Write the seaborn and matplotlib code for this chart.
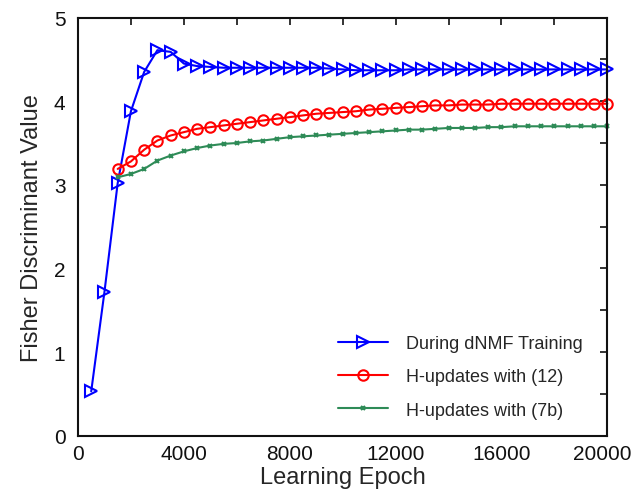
import numpy as np
import pandas as pd
import seaborn as sns
import matplotlib
matplotlib.use("Agg")
import matplotlib.pyplot as plt
from matplotlib.ticker import MultipleLocator
from matplotlib.transforms import ScaledTranslation

# ---- data ----
blue_epochs = list(range(500, 20001, 500))
blue_values = [0.53, 1.72, 3.02, 3.88, 4.35, 4.61, 4.59, 4.45, 4.42, 4.41,
               4.40, 4.40, 4.40, 4.40, 4.40, 4.40, 4.40, 4.40, 4.39, 4.38,
               4.37, 4.37, 4.37, 4.37, 4.38, 4.38, 4.38, 4.38, 4.38, 4.38,
               4.38, 4.38, 4.38, 4.38, 4.38, 4.38, 4.38, 4.38, 4.38, 4.38]

red_epochs = list(range(1500, 20001, 500))
red_values = [3.19, 3.28, 3.42, 3.53, 3.59, 3.63, 3.67, 3.69, 3.71, 3.73,
              3.75, 3.77, 3.79, 3.81, 3.83, 3.85, 3.86, 3.87, 3.88, 3.90,
              3.91, 3.92, 3.93, 3.94, 3.95, 3.95, 3.96, 3.96, 3.96, 3.97,
              3.97, 3.97, 3.97, 3.97, 3.97, 3.97, 3.97, 3.97]

green_epochs = list(range(1500, 20001, 500))
green_values = [3.09, 3.13, 3.19, 3.29, 3.35, 3.40, 3.44, 3.47, 3.49, 3.50,
                3.52, 3.53, 3.55, 3.57, 3.58, 3.59, 3.60, 3.61, 3.62, 3.63,
                3.64, 3.65, 3.66, 3.66, 3.67, 3.68, 3.68, 3.68, 3.69, 3.69,
                3.70, 3.70, 3.70, 3.70, 3.70, 3.70, 3.70, 3.70]

series_names = ["During dNMF Training", "H-updates with (12)", "H-updates with (7b)"]
x_ticks = [0, 4000, 8000, 12000, 16000, 20000]
y_ticks = [0, 1, 2, 3, 4, 5]

df = pd.concat([
    pd.DataFrame({"epoch": blue_epochs, "value": blue_values, "series": series_names[0]}),
    pd.DataFrame({"epoch": red_epochs, "value": red_values, "series": series_names[1]}),
    pd.DataFrame({"epoch": green_epochs, "value": green_values, "series": series_names[2]}),
])

sns.set_style("white")
plt.rcParams["font.family"] = ["Liberation Sans", "DejaVu Sans"]

fig = plt.figure(figsize=(6.34, 5.02), dpi=100)
ax = fig.add_axes([0.123, 0.13, 0.835, 0.833])

styles = {
    series_names[0]: dict(color="#0000ff", marker=">", ms=9, mfc="none", mew=1.5),
    series_names[1]: dict(color="#ff0000", marker="o", ms=7.5, mfc="none", mew=1.5),
    series_names[2]: dict(color="#2e8b57", marker="x", ms=3.5, mfc="none", mew=1.5),
}
for name in series_names:
    sub = df[df["series"] == name]
    st = styles[name]
    sns.lineplot(data=sub, x="epoch", y="value", ax=ax, label=name,
                 color=st["color"], marker=st["marker"], markersize=st["ms"],
                 markerfacecolor=st["mfc"], markeredgecolor=st["color"],
                 markeredgewidth=st["mew"], linewidth=1.5, clip_on=False)

ax.set_xlim(0, 20000)
ax.set_ylim(0, 5)
ax.set_xticks(x_ticks)
ax.set_yticks(y_ticks)
ax.xaxis.set_minor_locator(MultipleLocator(2000))
ax.yaxis.set_minor_locator(MultipleLocator(0.5))
ax.tick_params(which="both", direction="in", top=True, right=True,
               length=5, width=1.2, labelsize=15, pad=6, colors="#111111")
ax.tick_params(axis="y", pad=9)
for s in ax.spines.values():
    s.set_visible(True)
    s.set_color("#111111")
    s.set_linewidth(1.5)

# nudge the last x tick label so it stays inside the canvas
last_lbl = ax.get_xticklabels()[-1]
last_lbl.set_transform(last_lbl.get_transform() + ScaledTranslation(-4 / 72, 0, fig.dpi_scale_trans))

ax.set_xlabel("Learning Epoch", fontsize=17, labelpad=2)
ax.set_ylabel("Fisher Discriminant Value", fontsize=17, labelpad=8)

leg = ax.legend(loc="lower right", frameon=False, fontsize=13,
                handlelength=2.8, handletextpad=1.0, labelspacing=0.9,
                bbox_to_anchor=(0.985, 0.002))

fig.savefig("out.png", dpi=100)
